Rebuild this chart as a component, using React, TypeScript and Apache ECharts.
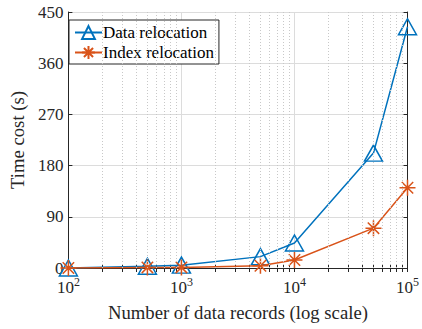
import React, { useEffect, useRef } from "react";
import * as echarts from "echarts";

const records = [100, 500, 1000, 5000, 10000, 50000, 100000];
const dataRelocation = [0, 3, 5, 20, 44, 202, 424];
const indexRelocation = [0, 1, 1, 4, 14, 70, 141];
const majorTicks = [100, 1000, 10000, 100000];
const minorTicks = [200, 300, 400, 500, 600, 700, 800, 900, 2000, 3000, 4000, 5000, 6000, 7000, 8000, 9000, 20000, 30000, 40000, 50000, 60000, 70000, 80000, 90000];
const allTicks = [...majorTicks, ...minorTicks].sort((a, b) => a - b);
const yTicks = [0, 90, 180, 270, 360, 450];

const BLUE = "#0072BD";
const ORANGE = "#D95319";
const AX = "#262626";
const FONT = "'Liberation Serif', 'Times New Roman', Times, serif";

const triPath = "path://M9,0L18,16L0,16Z";
const starPath = "path://M0,8L16,8M8,0L8,16M2.3,2.3L13.7,13.7M13.7,2.3L2.3,13.7";

export default function App() {
  const ref = useRef<HTMLDivElement>(null);
  useEffect(() => {
    if (!ref.current) return;
    const chart = echarts.init(ref.current, undefined, { renderer: "svg" });
    const xCommon = {
      type: "log",
      logBase: 10,
      min: 100,
      max: 100000,
      axisLine: { show: true, lineStyle: { color: AX, width: 1 } },
      minorTick: { show: false },
    };
    chart.setOption({
      animation: false,
      textStyle: { fontFamily: FONT },
      grid: { left: 62, right: 13, top: 12, bottom: 61, show: false, containLabel: false },
      legend: {
        left: 69,
        top: 20,
        orient: "vertical",
        backgroundColor: "#fff",
        borderColor: AX,
        borderWidth: 1,
        borderRadius: 0,
        padding: [4, 5, 3, 5],
        itemGap: 3,
        itemWidth: 27,
        itemHeight: 16,
        textStyle: { fontFamily: FONT, fontSize: 17, color: "#000", padding: [0, 0, 0, -4] },
        data: ["Data relocation", "Index relocation"],
      },
      xAxis: [
        {
          ...xCommon,
          position: "bottom",
          name: "Number of data records (log scale)",
          nameLocation: "middle",
          nameGap: 35,
          nameTextStyle: { fontFamily: FONT, fontSize: 18.7, color: AX },
          axisTick: { show: true, inside: true, length: 4, lineStyle: { color: AX } },
          splitLine: { show: true, lineStyle: { color: "#dcdcdc", width: 1 } },
          axisLabel: {
            show: true,
            margin: 8,
            formatter: (v: number) => `{b|10}{s|${Math.round(Math.log10(v))}}`,
            rich: {
              b: { fontFamily: FONT, fontSize: 17, color: AX },
              s: { fontFamily: FONT, fontSize: 12, color: AX, padding: [0, 0, 10, 0] },
            },
          },
        },
        {
          ...xCommon,
          position: "top",
          axisTick: { show: true, inside: true, length: 4, customValues: allTicks, lineStyle: { color: AX } },
          splitLine: { show: false },
          axisLabel: { show: false },
        },
        {
          ...xCommon,
          position: "bottom",
          offset: 0,
          axisTick: { show: true, inside: true, length: 4, customValues: minorTicks, lineStyle: { color: AX } },
          splitLine: { show: false },
          axisLabel: { show: false },
        },
      ],
      yAxis: [
        {
          type: "value",
          min: 0,
          max: 450,
          interval: 90,
          position: "left",
          name: "Time cost (s)",
          nameLocation: "middle",
          nameGap: 36,
          nameTextStyle: { fontFamily: FONT, fontSize: 18.7, color: AX },
          axisLine: { show: true, lineStyle: { color: AX } },
          axisTick: { show: true, inside: true, length: 4, lineStyle: { color: AX } },
          axisLabel: { fontFamily: FONT, fontSize: 17, color: AX, margin: 5, customValues: yTicks },
          splitLine: { show: true, lineStyle: { color: "#dcdcdc", width: 1 } },
        },
        {
          type: "value",
          min: 0,
          max: 450,
          interval: 90,
          position: "right",
          axisLine: { show: true, lineStyle: { color: AX } },
          axisTick: { show: true, inside: true, length: 4, lineStyle: { color: AX } },
          axisLabel: { show: false },
          splitLine: { show: false },
        },
      ],
      series: [
        {
          name: "grid-minor",
          type: "line",
          data: [],
          silent: true,
          z: 1,
          markLine: {
            silent: true,
            symbol: "none",
            label: { show: false },
            lineStyle: { color: "#c8c8c8", type: [1, 2], width: 1 },
            data: minorTicks.map((v) => ({ xAxis: v })),
          },
        },
        {
          name: "Data relocation",
          type: "line",
          data: records.map((x, i) => [x, dataRelocation[i]]),
          symbol: triPath,
          symbolSize: [18, 16],
          showAllSymbol: true,
          lineStyle: { color: BLUE, width: 1.5 },
          itemStyle: { color: "rgba(0,0,0,0)", borderColor: BLUE, borderWidth: 1.5 },
          z: 3,
        },
        {
          name: "Index relocation",
          type: "line",
          data: records.map((x, i) => [x, indexRelocation[i]]),
          symbol: starPath,
          symbolSize: [16, 16],
          showAllSymbol: true,
          lineStyle: { color: ORANGE, width: 1.5 },
          itemStyle: { color: "rgba(0,0,0,0)", borderColor: ORANGE, borderWidth: 1.5 },
          z: 4,
        },
      ],
    });
    return () => chart.dispose();
  }, []);
  return <div ref={ref} style={{ width: 422, height: 329, position: "absolute", left: 0, top: 0 }} />;
}
